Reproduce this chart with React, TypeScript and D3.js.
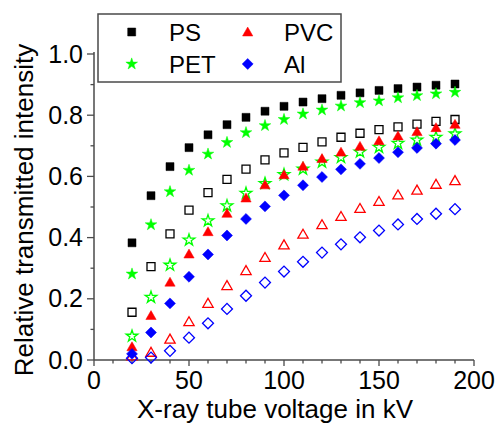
import React from 'react';
import * as d3 from 'd3';

// x-ray tube voltage (kV)
const voltage = [20, 30, 40, 50, 60, 70, 80, 90, 100, 110, 120, 130, 140, 150, 160, 170, 180, 190];

// filled symbols
const psFilled = [0.383, 0.537, 0.632, 0.694, 0.736, 0.769, 0.793, 0.813, 0.829, 0.843, 0.854, 0.865, 0.873, 0.881, 0.887, 0.892, 0.898, 0.902];
const petFilled = [0.281, 0.442, 0.550, 0.620, 0.673, 0.711, 0.743, 0.766, 0.786, 0.804, 0.817, 0.830, 0.841, 0.847, 0.857, 0.864, 0.870, 0.875];
const pvcFilled = [0.040, 0.142, 0.251, 0.343, 0.416, 0.476, 0.526, 0.569, 0.602, 0.630, 0.655, 0.676, 0.695, 0.713, 0.729, 0.743, 0.756, 0.767];
const alFilled = [0.020, 0.090, 0.185, 0.272, 0.345, 0.407, 0.461, 0.502, 0.538, 0.571, 0.598, 0.623, 0.641, 0.660, 0.679, 0.693, 0.707, 0.719];

// open symbols
const psOpen = [0.156, 0.305, 0.412, 0.490, 0.547, 0.590, 0.624, 0.654, 0.677, 0.695, 0.713, 0.728, 0.741, 0.753, 0.762, 0.771, 0.780, 0.786];
const petOpen = [0.078, 0.205, 0.310, 0.392, 0.455, 0.504, 0.545, 0.577, 0.606, 0.624, 0.647, 0.662, 0.680, 0.695, 0.708, 0.719, 0.728, 0.739];
const pvcOpen = [0.010, 0.022, 0.065, 0.122, 0.182, 0.240, 0.289, 0.332, 0.373, 0.408, 0.439, 0.466, 0.492, 0.515, 0.536, 0.552, 0.571, 0.583];
const alOpen = [0.006, 0.008, 0.030, 0.073, 0.120, 0.167, 0.210, 0.253, 0.289, 0.321, 0.351, 0.378, 0.401, 0.423, 0.443, 0.461, 0.478, 0.493];

const xTicks = [0, 50, 100, 150, 200];
const yTicks = [0, 0.2, 0.4, 0.6, 0.8, 1.0];
const legendNames = ['PS', 'PET', 'PVC', 'Al'];

const FONT = 'Liberation Sans, Arial, sans-serif';
const AXIS = '#4a4a4a';

const x = d3.scaleLinear().domain([0, 200]).range([94, 474]);
const y = d3.scaleLinear().domain([0, 1]).range([360, 54]);

const shapes = {
    square: { type: d3.symbolSquare, size: 64, rot: 0 },
    star: { type: d3.symbolStar, size: 42, rot: 0 },
    triangle: { type: d3.symbolTriangle, size: 46, rot: 0 },
    diamond: { type: d3.symbolSquare, size: 60, rot: 45 },
};

const series = [
    { values: psOpen, shape: 'square', color: '#000000', open: true },
    { values: petOpen, shape: 'star', color: '#00ff00', open: true },
    { values: pvcOpen, shape: 'triangle', color: '#ff0000', open: true },
    { values: alOpen, shape: 'diamond', color: '#0000ff', open: true },
    { values: psFilled, shape: 'square', color: '#000000', open: false },
    { values: petFilled, shape: 'star', color: '#00ff00', open: false },
    { values: pvcFilled, shape: 'triangle', color: '#ff0000', open: false },
    { values: alFilled, shape: 'diamond', color: '#0000ff', open: false },
];

const Marker = ({ cx, cy, shape, color, open }) => {
    const s = shapes[shape];
    const d = d3.symbol().type(s.type).size(s.size)();
    return (
        <path
            d={d}
            transform={`translate(${cx},${cy}) rotate(${s.rot})`}
            fill={open ? 'white' : color}
            fillOpacity={open ? 0 : 1}
            stroke={color}
            strokeWidth={open ? 1.3 : 0.5}
        />
    );
};

export default function App() {
    const minorX = d3.range(0, 201, 10);
    const minorY = d3.range(0, 1.0001, 0.1);

    return (
        <svg width={497} height={424} style={{ position: 'absolute', left: 0, top: 0 }}>
            <rect width={497} height={424} fill="white" />

            {/* axes */}
            <line x1={x(0)} x2={x(200)} y1={y(0)} y2={y(0)} stroke={AXIS} strokeWidth={1.5} />
            <line x1={x(0)} x2={x(0)} y1={y(0)} y2={y(1) - 2} stroke={AXIS} strokeWidth={1.5} />
            {minorX.map(v => (
                <line key={'mx' + v} x1={x(v)} x2={x(v)} y1={y(0)} y2={y(0) + (v % 50 === 0 ? 6 : 3.5)} stroke={AXIS} strokeWidth={1.3} />
            ))}
            {minorY.map((v, i) => (
                <line key={'my' + i} x1={x(0)} x2={x(0) - (i % 2 === 0 ? 7 : 3.5)} y1={y(v)} y2={y(v)} stroke={AXIS} strokeWidth={1.3} />
            ))}
            {xTicks.map(v => (
                <text key={'xt' + v} x={x(v)} y={389} textAnchor="middle" fontFamily={FONT} fontSize={25}>{v}</text>
            ))}
            {yTicks.map(v => (
                <text key={'yt' + v} x={83} y={y(v) + 8.5} textAnchor="end" fontFamily={FONT} fontSize={25}>{v.toFixed(1)}</text>
            ))}
            <text x={275} y={418} textAnchor="middle" fontFamily={FONT} fontSize={26}>X-ray tube voltage in kV</text>
            <text transform="translate(33,210) rotate(-90)" textAnchor="middle" fontFamily={FONT} fontSize={26}>Relative transmitted intensity</text>

            {/* data */}
            {series.map((s, si) => (
                <g key={'s' + si}>
                    {s.values.map((v, i) => (
                        <Marker key={i} cx={x(voltage[i])} cy={y(v)} shape={s.shape} color={s.color} open={s.open} />
                    ))}
                </g>
            ))}

            {/* legend */}
            <rect x={98} y={14} width={243} height={68} fill="white" stroke={AXIS} strokeWidth={1.5} />
            <Marker cx={131.7} cy={32} shape="square" color="#000000" open={false} />
            <Marker cx={131.7} cy={64} shape="star" color="#00ff00" open={false} />
            <Marker cx={247.7} cy={33} shape="triangle" color="#ff0000" open={false} />
            <Marker cx={247.7} cy={64} shape="diamond" color="#0000ff" open={false} />
            <text x={169} y={40.5} fontFamily={FONT} fontSize={24}>{legendNames[0]}</text>
            <text x={169} y={72.5} fontFamily={FONT} fontSize={24}>{legendNames[1]}</text>
            <text x={284} y={40.5} fontFamily={FONT} fontSize={24}>{legendNames[2]}</text>
            <text x={284} y={72.5} fontFamily={FONT} fontSize={24}>{legendNames[3]}</text>
        </svg>
    );
}
